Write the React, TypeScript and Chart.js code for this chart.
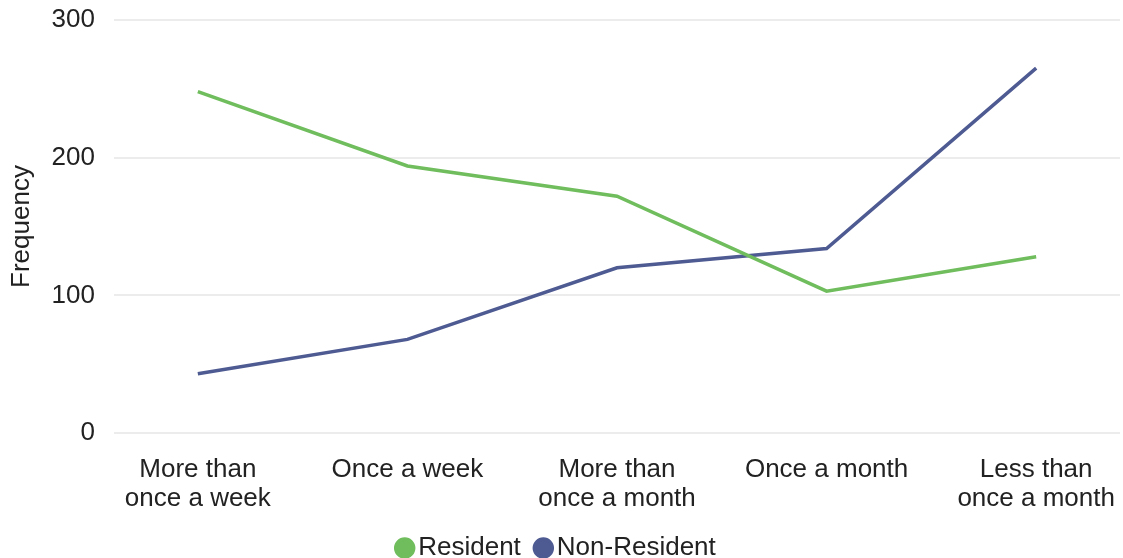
import React, { useEffect, useRef } from "react";
import { Chart, registerables } from "chart.js";

Chart.register(...registerables);

// Visit frequency categories (x axis), each label split into lines
const categories: string[][] = [
  ["More than", "once a week"],
  ["Once a week"],
  ["More than", "once a month"],
  ["Once a month"],
  ["Less than", "once a month"],
];

const residentValues = [248, 194, 172, 103, 128];
const nonResidentValues = [43, 68, 120, 134, 265];

const yTicks = [0, 100, 200, 300];

const GREEN = "#6fbd5c";
const NAVY = "#4e5a92";
const TEXT = "#222";
const FONT = "'Liberation Sans', Arial, sans-serif";

// Fixed axis sizes so the plot area lines up with the frame
const Y_AXIS_WIDTH = 114;
const X_AXIS_HEIGHT = 80;

const clearPadding = (axis: any) => {
  axis.paddingLeft = 0;
  axis.paddingRight = 0;
  axis.paddingTop = 0;
  axis.paddingBottom = 0;
};

export default function App() {
  const canvasRef = useRef<HTMLCanvasElement | null>(null);

  useEffect(() => {
    document.body.style.margin = "0";
    const ctx = canvasRef.current!;
    const toPoints = (vals: number[]) => vals.map((v, i) => ({ x: i, y: v }));

    const chart = new Chart(ctx, {
      type: "line",
      data: {
        datasets: [
          {
            label: "Resident",
            data: toPoints(residentValues),
            borderColor: GREEN,
            backgroundColor: GREEN,
            borderWidth: 3.5,
            pointRadius: 0,
            tension: 0,
          },
          {
            label: "Non-Resident",
            data: toPoints(nonResidentValues),
            borderColor: NAVY,
            backgroundColor: NAVY,
            borderWidth: 3.5,
            pointRadius: 0,
            tension: 0,
          },
        ],
      },
      options: {
        animation: false,
        responsive: false,
        layout: { padding: { left: 0, right: 3, top: 20, bottom: -13 } },
        plugins: {
          tooltip: { enabled: false },
          legend: {
            position: "bottom",
            labels: {
              usePointStyle: true,
              pointStyle: "circle",
              boxWidth: 1,
              boxHeight: 12.7,
              padding: 22,
              color: TEXT,
              font: { family: FONT, size: 26 },
            },
          },
        },
        scales: {
          x: {
            type: "linear",
            min: -0.4,
            max: 4.4,
            afterBuildTicks: (axis: any) => {
              axis.ticks = categories.map((_, i) => ({ value: i }));
            },
            afterFit: (axis: any) => {
              axis.height = X_AXIS_HEIGHT;
              clearPadding(axis);
            },
            ticks: {
              autoSkip: false,
              maxRotation: 0,
              padding: 23,
              color: TEXT,
              font: { family: FONT, size: 26, lineHeight: 1.1 },
              callback: (v: any) => categories[Math.round(Number(v))] ?? "",
            },
            grid: { display: false, drawTicks: false },
            border: { display: false },
          },
          y: {
            min: 0,
            max: 300,
            afterBuildTicks: (axis: any) => {
              axis.ticks = yTicks.map((v) => ({ value: v }));
            },
            afterFit: (axis: any) => {
              axis.width = Y_AXIS_WIDTH;
              clearPadding(axis);
            },
            ticks: {
              padding: 19,
              color: TEXT,
              font: { family: FONT, size: 26 },
            },
            title: {
              display: true,
              text: "Frequency",
              color: TEXT,
              font: { family: FONT, size: 26 },
              padding: { top: 6, bottom: 0 },
            },
            grid: { color: "#ececec", lineWidth: 2, drawTicks: false },
            border: { display: false },
          },
        },
      },
    });
    return () => chart.destroy();
  }, []);

  return (
    <div style={{ width: 1123, height: 558 }}>
      <canvas ref={canvasRef} width={1123} height={558} />
    </div>
  );
}
